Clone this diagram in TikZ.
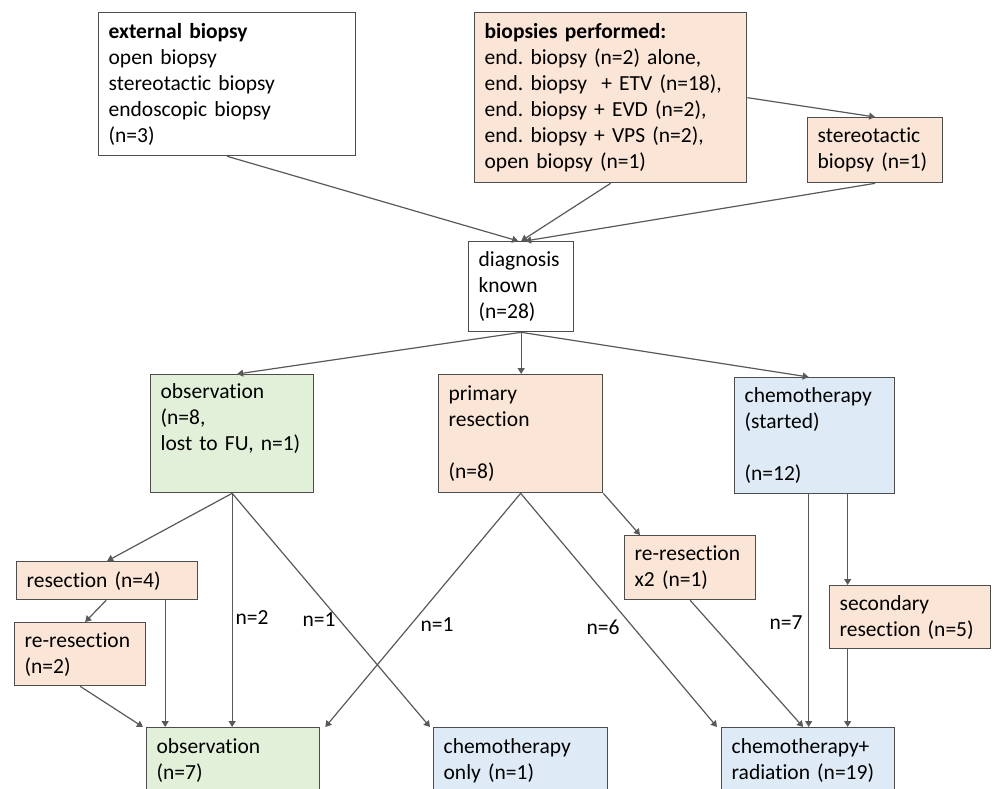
\documentclass[tikz,border=0pt]{standalone}
\usepackage{fontspec}
\setmainfont{Carlito}[Ligatures=NoCommon]
\usetikzlibrary{arrows.meta}
\definecolor{peachfill}{HTML}{FBE5D6}
\definecolor{greenfill}{HTML}{E2F0D9}
\definecolor{bluefill}{HTML}{DEEBF7}
\definecolor{edgegray}{HTML}{595959}
\definecolor{boxgray}{HTML}{4D4D4D}

\begin{document}
\begin{tikzpicture}
            [x=1pt,y=-1pt,
             box/.style={draw=boxgray,line width=1.3pt,anchor=north west,inner xsep=10pt,inner ysep=0pt,align=left,
                         font=\fontsize{21.5}{26}\selectfont},
             peach/.style={fill=peachfill},
             green/.style={fill=greenfill},
             blue/.style={fill=bluefill},
             lbl/.style={inner sep=0pt,font=\fontsize{21.5}{26}\selectfont},
             arr/.style={draw=edgegray,line width=1.2pt,-{Triangle[length=6pt,width=7pt]}}]
            \useasboundingbox (0,0) rectangle (993,788);
            \clip (0,0) rectangle (993,788);
            % biopsies
            \node[box,fill=white,minimum height=143pt,text width=237pt] (ext) at (98,12)
                {\textbf{external biopsy}\\open biopsy\\stereotactic biopsy\\endoscopic biopsy\\(n=3)};
            \node[box,peach,minimum height=170pt,text width=252pt] (bio) at (474,12)
                {\textbf{biopsies performed:}\\end.~biopsy (n=2) alone,\\end.~biopsy~ + ETV (n=18),\\end.~biopsy + EVD (n=2),\\end.~biopsy + VPS (n=2),\\open biopsy (n=1)};
            \node[box,peach,minimum height=65pt,text width=115pt] (ster) at (807,117)
                {stereotactic\\biopsy~(n=1)};
            \node[box,fill=white,minimum height=90pt,text width=85pt] (diag) at (468,241)
                {diagnosis\\known\\(n=28)};
            % first treatment
            \node[box,green,minimum height=118pt,text width=143pt] (obs) at (150,374)
                {observation\\(n=8,\\lost~to~FU,~n=1)\\\strut};
            \node[box,peach,minimum height=118pt,text width=144pt] (prim) at (438,374)
                {primary\\resection\\\strut\\(n=8)};
            \node[box,blue,minimum height=116pt,text width=140pt] (chem) at (734,377)
                {chemotherapy\\(started)\\\strut\\(n=12)};
            % further surgery
            \node[box,peach,minimum height=38pt,text width=161pt] (res) at (16,561) {resection (n=4)};
            \node[box,peach,minimum height=63pt,text width=111pt] (rer) at (14,622) {re-resection\\(n=2)};
            \node[box,peach,minimum height=64pt,text width=111pt] (rerx) at (624,535) {re-resection\\x2 (n=1)};
            \node[box,peach,minimum height=63pt,text width=141pt] (sec) at (829,585) {secondary\\resection~(n=5)};
            % outcome
            \node[box,green,minimum height=66pt,text width=153pt] (obsend) at (146,727) {observation\\(n=7)};
            \node[box,blue,minimum height=66pt,text width=154pt] (chemonly) at (433,727) {chemotherapy\\only (n=1)};
            \node[box,blue,minimum height=66pt,text width=153pt] (chemrad) at (721,727) {chemotherapy+\\radiation~(n=19)};
            % counts
            \node[lbl] (lbltwo) at (252,618) {n=2};
            \node[lbl] (lblone) at (319,620) {n=1};
            \node[lbl] (lblonep) at (437,625) {n=1};
            \node[lbl] (lblsix) at (603,627) {n=6};
            \node[lbl] (lblseven) at (786,623) {n=7};

            \draw[arr] (ext.south) -- ([xshift=-3pt]diag.north);
            \draw[arr] (bio.south) -- (diag.north);
            \draw[arr] (ster.south) -- ([xshift=4pt]diag.north);
            \draw[arr] (bio.east) -- (ster.north);
            \draw[arr] (diag.south) -- ([xshift=5pt]obs.north);
            \draw[arr] (diag.south) -- (diag.south |- prim.north);
            \draw[arr] (diag.south) -- ([xshift=-6pt]chem.north);
            \draw[arr] (obs.south) -- (res.north);
            \draw[arr] (obs.south) -- (obs.south |- obsend.north);
            \draw[arr] (obs.south) -- ([xshift=-3pt]chemonly.north west);
            \draw[arr] ([xshift=-1pt]res.south) -- ([xshift=5pt]rer.north);
            \draw[arr] ([xshift=58pt]res.south) -- ([xshift=58pt]res.south |- obsend.north);
            \draw[arr] (rer.south) -- ([xshift=-3pt]obsend.north west);
            \draw[arr] (prim.south) -- ([xshift=5pt]obsend.north east);
            \draw[arr] (prim.south) -- ([xshift=-4pt]chemrad.north west);
            \draw[arr] (prim.south east) -- ([xshift=16pt]rerx.north west);
            \draw[arr] (rerx.south) -- ([xshift=-5pt]chemrad.north);
            \draw[arr] ([xshift=-6pt]chem.south) -- ([xshift=-6pt]chem.south |- chemrad.north);
            \draw[arr] ([xshift=33pt]chem.south) -- ([xshift=33pt]chem.south |- sec.north);
            \draw[arr] ([xshift=33pt]chem.south |- sec.south) -- ([xshift=33pt]chem.south |- chemrad.north);

        \end{tikzpicture}
\end{document}
